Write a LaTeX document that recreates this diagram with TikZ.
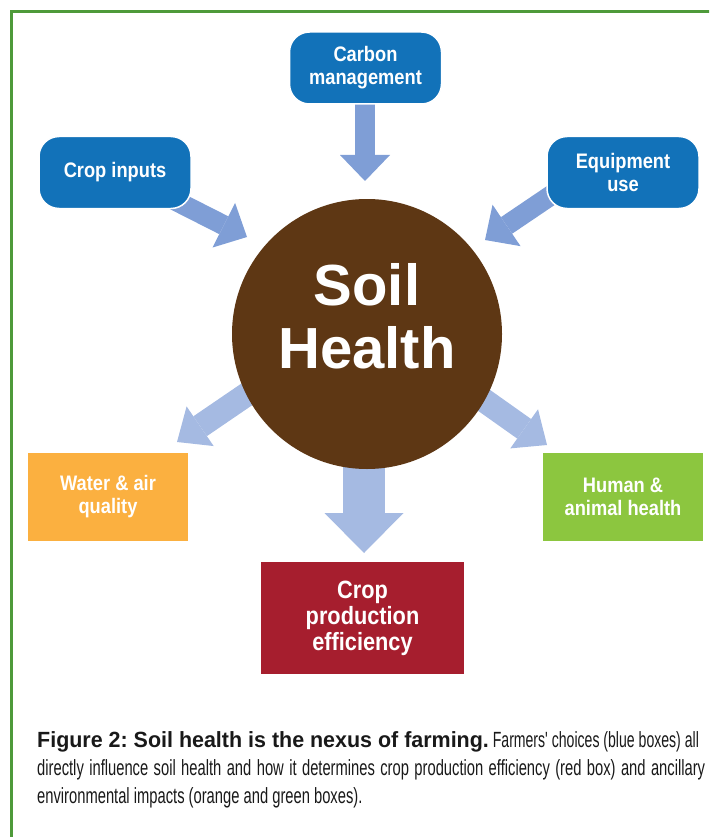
\documentclass[tikz,border=0pt]{standalone}
\usepackage{fontspec}
\usetikzlibrary{arrows.meta}
\newfontfamily\boxfont[FakeStretch=0.87]{Liberation Sans}
\newfontfamily\soilfont{Liberation Sans}
\newfontfamily\capboldfont[FakeStretch=0.975]{Liberation Sans}
\newfontfamily\capfont[FakeStretch=0.67]{Liberation Sans}
\newfontfamily\capfontnarrow[FakeStretch=0.64]{Liberation Sans}
\definecolor{bluebox}{HTML}{1272B9}
\definecolor{inarrowc}{HTML}{7F9ED6}
\definecolor{outarrowc}{HTML}{A5BAE2}
\definecolor{soilbrown}{HTML}{5E3714}
\definecolor{orangebox}{HTML}{FBB040}
\definecolor{greenbox}{HTML}{8CC63F}
\definecolor{redbox}{HTML}{A61E2E}
\definecolor{framegreen}{HTML}{4E9A3A}
\tikzset{
  choicebox/.style={rounded corners=20pt, fill=bluebox, draw=white, line width=1.5pt,
    minimum width=152pt, minimum height=72pt, text=white, align=center, inner sep=0pt,
    font=\boxfont\bfseries\fontsize{21}{23}\selectfont},
  impactbox/.style={fill=#1, minimum width=160pt, minimum height=88pt, text=white,
    align=center, inner sep=0pt, font=\boxfont\bfseries\fontsize{21}{23}\selectfont},
  inarrow/.style={draw=inarrowc, line width=20pt,
    -{Triangle[width=50pt,length=26pt,line width=0pt]}},
  outarrow/.style={draw=outarrowc, line width=24pt,
    -{Triangle[width=48pt,length=28pt,line width=0pt]}},
  bigarrow/.style={draw=outarrowc, line width=42pt,
    -{Triangle[width=79pt,length=40pt,line width=0pt]}},
  soiltext/.style={text=white, inner sep=0pt, anchor=base,
    font=\soilfont\bfseries\fontsize{58}{63}\selectfont},
  captext/.style={inner sep=0pt, anchor=base west, text=black!90}
}
\frenchspacing
\begin{document}
\begin{tikzpicture}[x=1pt,y=-1pt]
\useasboundingbox (0,0) rectangle (709,837);
\clip (0,0) rectangle (709,837);
\draw[framegreen, line width=3pt] (11,12) rectangle (760,900);

% anchor coordinates for arrow ends
\coordinate (ci-s) at (172,199);
\coordinate (ci-t) at (247,237);
\coordinate (cm-s) at (365,104);
\coordinate (cm-t) at (365,181);
\coordinate (eu-s) at (556,192);
\coordinate (eu-t) at (485,240);
\coordinate (wa-s) at (262,384);
\coordinate (wa-t) at (177,442);
\coordinate (ha-s) at (468,389);
\coordinate (ha-t) at (547,445);
\coordinate (cp-s) at (364,430);
\coordinate (cp-t) at (364,553);

% arrows (behind boxes and circle)
\draw[inarrow] (ci-s) -- (ci-t);
\draw[inarrow] (cm-s) -- (cm-t);
\draw[inarrow] (eu-s) -- (eu-t);
\draw[outarrow] (wa-s) -- (wa-t);
\draw[outarrow] (ha-s) -- (ha-t);
\draw[bigarrow] (cp-s) -- (cp-t);

% centre
\node[circle, fill=soilbrown, minimum size=270pt, inner sep=0pt] (soil) at (367,334) {};
\node[soiltext] (soil1) at (367,305) {Soil};
\node[soiltext] (soil2) at (367,368) {Health};

% choices
\node[choicebox] (carbon) at (365.5,68) {Carbon\\management};
\node[choicebox] (inputs) at (115,172.5) {\raisebox{-3pt}{Crop inputs}};
\node[choicebox] (equip) at (623,172.5) {Equipment\\use};

% impacts
\node[impactbox=orangebox] (water) at (108,497) {Water \& air\\quality};
\node[impactbox=greenbox] (human) at (623,497) {Human \&\\animal health};
\node[impactbox=redbox, minimum width=203pt, minimum height=112pt,
  font=\boxfont\bfseries\fontsize{25}{26}\selectfont] (cpe) at (362.5,618) {Crop\\production\\efficiency};

% caption
\node[captext] (cap1) at (37,747) {\capboldfont\bfseries\fontsize{22}{28}\selectfont Figure 2: Soil health is the nexus of farming.\capfontnarrow\mdseries\ Farmers' choices (blue boxes) all};
\node[captext] (cap2) at (37,775) {\capfont\fontsize{22}{28}\selectfont\makebox[668pt][s]{directly influence soil health and how it determines crop production efficiency (red box) and ancillary}};
\node[captext] (cap3) at (37,803) {\capfont\fontsize{22}{28}\selectfont environmental impacts (orange and green boxes).};
\end{tikzpicture}
\end{document}
